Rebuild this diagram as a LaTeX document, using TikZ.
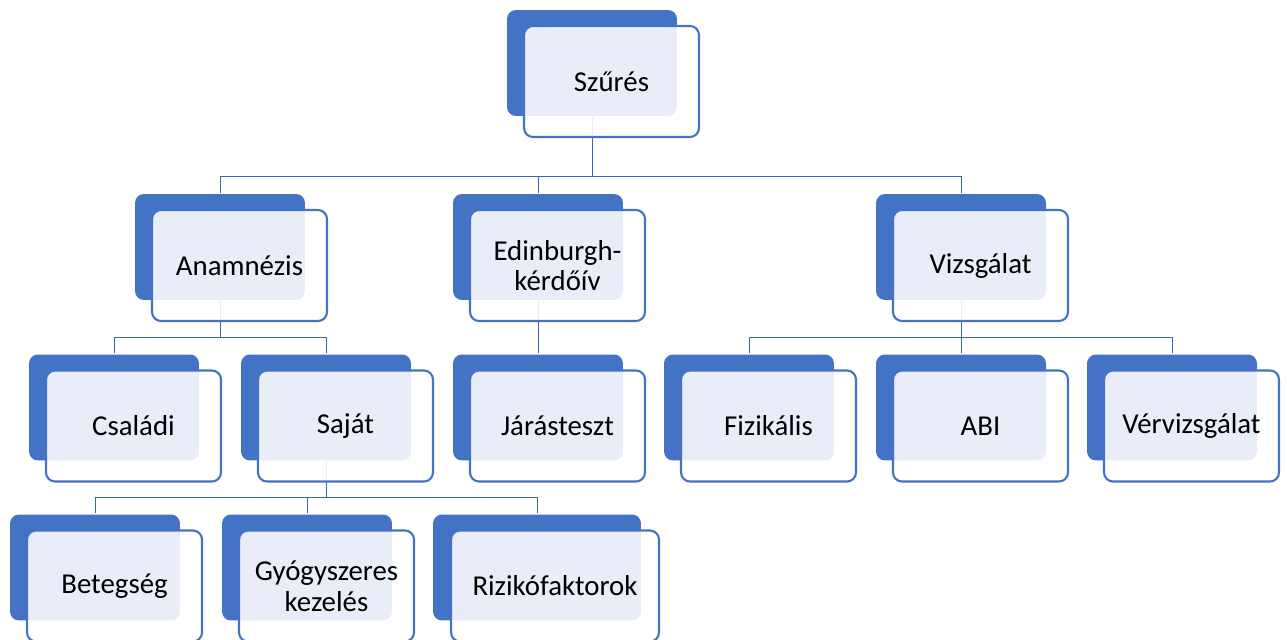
\documentclass[tikz,border=0pt]{standalone}
\usepackage{fontspec}
\setmainfont{Carlito}
\usetikzlibrary{backgrounds}
\definecolor{box_blue}{RGB}{68,114,196}
\definecolor{edge_blue}{RGB}{62,102,176}

\begin{document}
\begin{tikzpicture}[x=0.02cm,y=-0.02cm,line width=1.2pt]
    \tikzstyle{back}=[rounded corners=0.18cm, fill=box_blue, minimum width=3.4cm, minimum height=2.12cm, inner sep=0pt]
    \tikzstyle{front}=[rounded corners=0.18cm, draw=box_blue, fill=white, fill opacity=0.88, text opacity=1, minimum width=3.5cm, minimum height=2.22cm, inner sep=0pt, align=center, font=\fontsize{16.4}{17.4}\selectfont]
    \tikzstyle{link}=[draw=edge_blue]
    \useasboundingbox (0,0) rectangle (1287,639);

    % top
    \node[back]  (sz)  at (592,63)      {};
    \node[front] (szF) at (611.5,81.5)  {Szűrés};
    % second row
    \node[back]  (an)  at (220,247)     {};
    \node[front] (anF) at (239.5,265.5) {Anamnézis};
    \node[back]  (ed)  at (538,247)     {};
    \node[front] (edF) at (557.5,265.5) {Edinburgh-\\kérdőív};
    \node[back]  (vz)  at (961,247)     {};
    \node[front] (vzF) at (980.5,265.5) {Vizsgálat};
    % third row
    \node[back]  (cs)  at (114,407.5)   {};
    \node[front] (csF) at (133.5,426)   {Családi};
    \node[back]  (sa)  at (326,407.5)   {};
    \node[front] (saF) at (345.5,426)   {Saját};
    \node[back]  (ja)  at (538,407.5)   {};
    \node[front] (jaF) at (557.5,426)   {Járásteszt};
    \node[back]  (fi)  at (749,407.5)   {};
    \node[front] (fiF) at (768.5,426)   {Fizikális};
    \node[back]  (abi) at (961,407.5)   {};
    \node[front] (abiF) at (980.5,426)  {ABI};
    \node[back]  (ve)  at (1172,407.5)  {};
    \node[front] (veF) at (1191.5,426)  {Vérvizsgálat};
    % fourth row
    \node[back]  (be)  at (95,567.5)    {};
    \node[front] (beF) at (114.5,586)   {Betegség};
    \node[back]  (gy)  at (307,567.5)   {};
    \node[front] (gyF) at (326.5,586)   {Gyógyszeres\\kezelés};
    \node[back, minimum width=4.16cm]  (ri)  at (537,567.5) {};
    \node[front, minimum width=4.16cm] (riF) at (555,586)   {Rizikófaktorok};

    \coordinate (bus1) at (0,176);
    \coordinate (bus2) at (0,337);
    \coordinate (bus3) at (0,497);

    \begin{scope}[on background layer]
      \foreach \c in {an,ed,vz}
        \draw[link] (sz) -- (sz |- bus1) -| (\c.north);
      \foreach \c in {cs,sa}
        \draw[link] (an) -- (an |- bus2) -| (\c.north);
      \draw[link] (ed) -- (ja.north);
      \foreach \c in {fi,abi,ve}
        \draw[link] (vz) -- (vz |- bus2) -| (\c.north);
      \foreach \c in {be,gy,ri}
        \draw[link] (sa) -- (sa |- bus3) -| (\c.north);
    \end{scope}
\end{tikzpicture}
\end{document}
